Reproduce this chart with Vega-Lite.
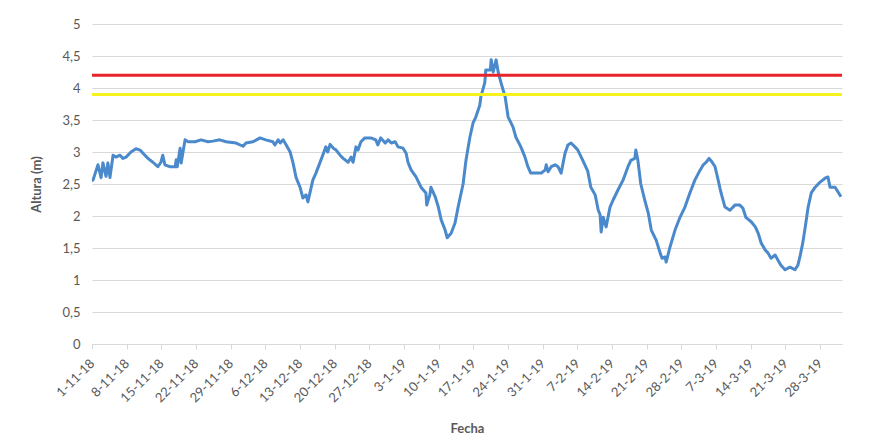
{
  "$schema": "https://vega.github.io/schema/vega-lite/v6.json",
  "width": 750,
  "height": 320,
  "autosize": "none",
  "padding": {"left": 92, "top": 24, "right": 30, "bottom": 103},
  "background": "white",
  "config": {
    "view": {"stroke": null},
    "font": "Lato",
    "axis": {"labelFont": "Lato", "titleFont": "Lato", "labelColor": "#595959", "titleColor": "#595959"}
  },
  "datasets": {
    "altura": [
      {"t": "2018-11-01T00:00", "v": 2.56},
      {"t": "2018-11-01T05:00", "v": 2.56},
      {"t": "2018-11-02T05:00", "v": 2.8},
      {"t": "2018-11-02T20:00", "v": 2.6},
      {"t": "2018-11-03T05:00", "v": 2.83},
      {"t": "2018-11-03T20:00", "v": 2.62},
      {"t": "2018-11-04T05:00", "v": 2.83},
      {"t": "2018-11-04T15:00", "v": 2.6},
      {"t": "2018-11-05T06:00", "v": 2.95},
      {"t": "2018-11-05T20:00", "v": 2.92},
      {"t": "2018-11-06T16:00", "v": 2.95},
      {"t": "2018-11-07T06:00", "v": 2.9},
      {"t": "2018-11-07T21:00", "v": 2.92},
      {"t": "2018-11-08T21:00", "v": 3.0},
      {"t": "2018-11-09T21:00", "v": 3.05},
      {"t": "2018-11-10T17:00", "v": 3.03},
      {"t": "2018-11-11T07:00", "v": 2.98},
      {"t": "2018-11-12T07:00", "v": 2.9},
      {"t": "2018-11-13T07:00", "v": 2.84},
      {"t": "2018-11-14T07:00", "v": 2.77},
      {"t": "2018-11-14T22:00", "v": 2.84},
      {"t": "2018-11-15T07:00", "v": 2.95},
      {"t": "2018-11-15T17:00", "v": 2.8},
      {"t": "2018-11-16T17:00", "v": 2.77},
      {"t": "2018-11-17T19:00", "v": 2.77},
      {"t": "2018-11-18T00:00", "v": 2.88},
      {"t": "2018-11-18T05:00", "v": 2.77},
      {"t": "2018-11-18T19:00", "v": 3.06},
      {"t": "2018-11-19T00:00", "v": 2.83},
      {"t": "2018-11-19T19:00", "v": 3.19},
      {"t": "2018-11-20T10:00", "v": 3.16},
      {"t": "2018-11-21T19:00", "v": 3.16},
      {"t": "2018-11-23T00:00", "v": 3.19},
      {"t": "2018-11-24T10:00", "v": 3.16},
      {"t": "2018-11-25T10:00", "v": 3.17},
      {"t": "2018-11-26T19:00", "v": 3.19},
      {"t": "2018-11-28T02:00", "v": 3.16},
      {"t": "2018-11-30T02:00", "v": 3.14},
      {"t": "2018-12-01T12:00", "v": 3.09},
      {"t": "2018-12-02T02:00", "v": 3.14},
      {"t": "2018-12-03T12:00", "v": 3.16},
      {"t": "2018-12-04T22:00", "v": 3.22},
      {"t": "2018-12-06T02:00", "v": 3.19},
      {"t": "2018-12-07T12:00", "v": 3.16},
      {"t": "2018-12-07T22:00", "v": 3.11},
      {"t": "2018-12-08T14:00", "v": 3.19},
      {"t": "2018-12-09T00:00", "v": 3.14},
      {"t": "2018-12-09T14:00", "v": 3.19},
      {"t": "2018-12-10T05:00", "v": 3.11},
      {"t": "2018-12-11T00:00", "v": 3.0},
      {"t": "2018-12-11T14:00", "v": 2.83},
      {"t": "2018-12-12T05:00", "v": 2.6},
      {"t": "2018-12-13T00:00", "v": 2.45},
      {"t": "2018-12-13T14:00", "v": 2.28},
      {"t": "2018-12-14T05:00", "v": 2.33},
      {"t": "2018-12-14T14:00", "v": 2.22},
      {"t": "2018-12-15T00:00", "v": 2.36},
      {"t": "2018-12-15T14:00", "v": 2.56},
      {"t": "2018-12-16T05:00", "v": 2.67},
      {"t": "2018-12-17T00:00", "v": 2.83},
      {"t": "2018-12-17T14:00", "v": 2.95},
      {"t": "2018-12-18T05:00", "v": 3.08},
      {"t": "2018-12-18T14:00", "v": 3.0},
      {"t": "2018-12-19T02:00", "v": 3.12},
      {"t": "2018-12-19T17:00", "v": 3.06},
      {"t": "2018-12-20T07:00", "v": 3.03},
      {"t": "2018-12-21T02:00", "v": 2.95},
      {"t": "2018-12-21T17:00", "v": 2.9},
      {"t": "2018-12-22T17:00", "v": 2.84},
      {"t": "2018-12-23T07:00", "v": 2.92},
      {"t": "2018-12-23T17:00", "v": 2.84},
      {"t": "2018-12-24T07:00", "v": 3.08},
      {"t": "2018-12-24T17:00", "v": 3.03},
      {"t": "2018-12-25T07:00", "v": 3.16},
      {"t": "2018-12-26T02:00", "v": 3.22},
      {"t": "2018-12-27T07:00", "v": 3.22},
      {"t": "2018-12-28T07:00", "v": 3.19},
      {"t": "2018-12-28T17:00", "v": 3.11},
      {"t": "2018-12-29T07:00", "v": 3.22},
      {"t": "2018-12-30T05:00", "v": 3.14},
      {"t": "2018-12-30T19:00", "v": 3.19},
      {"t": "2018-12-31T10:00", "v": 3.14},
      {"t": "2019-01-01T05:00", "v": 3.16},
      {"t": "2019-01-01T19:00", "v": 3.08},
      {"t": "2019-01-02T19:00", "v": 3.06},
      {"t": "2019-01-03T10:00", "v": 2.98},
      {"t": "2019-01-03T19:00", "v": 2.84},
      {"t": "2019-01-04T10:00", "v": 2.72},
      {"t": "2019-01-05T10:00", "v": 2.61},
      {"t": "2019-01-06T10:00", "v": 2.45},
      {"t": "2019-01-07T10:00", "v": 2.36},
      {"t": "2019-01-07T14:00", "v": 2.17},
      {"t": "2019-01-08T05:00", "v": 2.33},
      {"t": "2019-01-08T10:00", "v": 2.45},
      {"t": "2019-01-09T07:00", "v": 2.3},
      {"t": "2019-01-09T22:00", "v": 2.14},
      {"t": "2019-01-10T12:00", "v": 1.94},
      {"t": "2019-01-11T07:00", "v": 1.78},
      {"t": "2019-01-11T17:00", "v": 1.66},
      {"t": "2019-01-12T12:00", "v": 1.73},
      {"t": "2019-01-13T07:00", "v": 1.89},
      {"t": "2019-01-13T22:00", "v": 2.14},
      {"t": "2019-01-14T22:00", "v": 2.5},
      {"t": "2019-01-15T12:00", "v": 2.87},
      {"t": "2019-01-16T07:00", "v": 3.23},
      {"t": "2019-01-16T22:00", "v": 3.45},
      {"t": "2019-01-17T12:00", "v": 3.55},
      {"t": "2019-01-18T07:00", "v": 3.73},
      {"t": "2019-01-18T12:00", "v": 3.86},
      {"t": "2019-01-19T07:00", "v": 4.08},
      {"t": "2019-01-19T12:00", "v": 4.28},
      {"t": "2019-01-20T10:00", "v": 4.28},
      {"t": "2019-01-20T14:00", "v": 4.44},
      {"t": "2019-01-21T00:00", "v": 4.25},
      {"t": "2019-01-21T14:00", "v": 4.44},
      {"t": "2019-01-22T00:00", "v": 4.25},
      {"t": "2019-01-22T14:00", "v": 4.08},
      {"t": "2019-01-23T10:00", "v": 3.86},
      {"t": "2019-01-24T00:00", "v": 3.55},
      {"t": "2019-01-25T00:00", "v": 3.39},
      {"t": "2019-01-25T14:00", "v": 3.23},
      {"t": "2019-01-26T14:00", "v": 3.08},
      {"t": "2019-01-27T10:00", "v": 2.92},
      {"t": "2019-01-28T00:00", "v": 2.77},
      {"t": "2019-01-28T14:00", "v": 2.67},
      {"t": "2019-01-30T00:00", "v": 2.67},
      {"t": "2019-01-30T17:00", "v": 2.67},
      {"t": "2019-01-31T12:00", "v": 2.72},
      {"t": "2019-01-31T17:00", "v": 2.8},
      {"t": "2019-02-01T02:00", "v": 2.69},
      {"t": "2019-02-01T17:00", "v": 2.77},
      {"t": "2019-02-02T12:00", "v": 2.8},
      {"t": "2019-02-03T02:00", "v": 2.77},
      {"t": "2019-02-03T17:00", "v": 2.67},
      {"t": "2019-02-04T12:00", "v": 2.98},
      {"t": "2019-02-05T02:00", "v": 3.11},
      {"t": "2019-02-05T17:00", "v": 3.14},
      {"t": "2019-02-06T12:00", "v": 3.08},
      {"t": "2019-02-07T02:00", "v": 3.03},
      {"t": "2019-02-08T02:00", "v": 2.87},
      {"t": "2019-02-09T02:00", "v": 2.7},
      {"t": "2019-02-09T17:00", "v": 2.45},
      {"t": "2019-02-10T14:00", "v": 2.33},
      {"t": "2019-02-11T05:00", "v": 2.09},
      {"t": "2019-02-11T14:00", "v": 2.02},
      {"t": "2019-02-11T19:00", "v": 1.75},
      {"t": "2019-02-12T05:00", "v": 1.98},
      {"t": "2019-02-12T19:00", "v": 1.83},
      {"t": "2019-02-13T14:00", "v": 2.14},
      {"t": "2019-02-14T05:00", "v": 2.25},
      {"t": "2019-02-15T05:00", "v": 2.41},
      {"t": "2019-02-16T05:00", "v": 2.56},
      {"t": "2019-02-17T05:00", "v": 2.77},
      {"t": "2019-02-17T19:00", "v": 2.87},
      {"t": "2019-02-18T14:00", "v": 2.9},
      {"t": "2019-02-18T19:00", "v": 3.03},
      {"t": "2019-02-19T05:00", "v": 2.87},
      {"t": "2019-02-19T19:00", "v": 2.5},
      {"t": "2019-02-20T14:00", "v": 2.25},
      {"t": "2019-02-21T07:00", "v": 2.05},
      {"t": "2019-02-21T22:00", "v": 1.78},
      {"t": "2019-02-22T22:00", "v": 1.62},
      {"t": "2019-02-23T17:00", "v": 1.42},
      {"t": "2019-02-24T02:00", "v": 1.34},
      {"t": "2019-02-24T17:00", "v": 1.36},
      {"t": "2019-02-24T22:00", "v": 1.28},
      {"t": "2019-02-25T17:00", "v": 1.52},
      {"t": "2019-02-26T17:00", "v": 1.78},
      {"t": "2019-02-27T17:00", "v": 1.98},
      {"t": "2019-02-28T17:00", "v": 2.14},
      {"t": "2019-03-01T17:00", "v": 2.36},
      {"t": "2019-03-02T17:00", "v": 2.56},
      {"t": "2019-03-03T19:00", "v": 2.72},
      {"t": "2019-03-04T10:00", "v": 2.8},
      {"t": "2019-03-05T00:00", "v": 2.84},
      {"t": "2019-03-05T14:00", "v": 2.9},
      {"t": "2019-03-06T05:00", "v": 2.84},
      {"t": "2019-03-06T19:00", "v": 2.77},
      {"t": "2019-03-07T10:00", "v": 2.56},
      {"t": "2019-03-08T00:00", "v": 2.36},
      {"t": "2019-03-08T19:00", "v": 2.14},
      {"t": "2019-03-09T19:00", "v": 2.09},
      {"t": "2019-03-10T19:00", "v": 2.17},
      {"t": "2019-03-11T19:00", "v": 2.17},
      {"t": "2019-03-12T10:00", "v": 2.12},
      {"t": "2019-03-13T00:00", "v": 1.98},
      {"t": "2019-03-14T02:00", "v": 1.91},
      {"t": "2019-03-14T22:00", "v": 1.83},
      {"t": "2019-03-15T12:00", "v": 1.73},
      {"t": "2019-03-16T02:00", "v": 1.58},
      {"t": "2019-03-16T22:00", "v": 1.47},
      {"t": "2019-03-17T12:00", "v": 1.42},
      {"t": "2019-03-18T02:00", "v": 1.34},
      {"t": "2019-03-18T22:00", "v": 1.39},
      {"t": "2019-03-19T12:00", "v": 1.31},
      {"t": "2019-03-20T02:00", "v": 1.23},
      {"t": "2019-03-20T22:00", "v": 1.16},
      {"t": "2019-03-21T22:00", "v": 1.2},
      {"t": "2019-03-22T22:00", "v": 1.16},
      {"t": "2019-03-23T12:00", "v": 1.23},
      {"t": "2019-03-23T22:00", "v": 1.36},
      {"t": "2019-03-24T12:00", "v": 1.58},
      {"t": "2019-03-25T00:00", "v": 1.83},
      {"t": "2019-03-25T14:00", "v": 2.14},
      {"t": "2019-03-26T05:00", "v": 2.36},
      {"t": "2019-03-27T00:00", "v": 2.45},
      {"t": "2019-03-28T00:00", "v": 2.53},
      {"t": "2019-03-29T00:00", "v": 2.59},
      {"t": "2019-03-29T14:00", "v": 2.61},
      {"t": "2019-03-30T00:00", "v": 2.45},
      {"t": "2019-03-31T00:00", "v": 2.45},
      {"t": "2019-03-31T14:00", "v": 2.38},
      {"t": "2019-04-01T05:00", "v": 2.3}
    ],
    "umbrales": [
      {"umbral": "Alerta roja", "v": 4.2},
      {"umbral": "Alerta amarilla", "v": 3.9}
    ]
  },
  "encoding": {
    "y": {
      "field": "v",
      "type": "quantitative",
      "title": "Altura (m)",
      "scale": {"domain": [0, 5], "nice": false, "zero": true},
      "axis": {
        "values": [0, 0.5, 1, 1.5, 2, 2.5, 3, 3.5, 4, 4.5, 5],
        "labelExpr": "replace(format(datum.value, '~g'), '.', ',')",
        "labelFontSize": 13,
        "labelPadding": 12,
        "labelOverlap": false,
        "domain": false,
        "ticks": false,
        "grid": true,
        "gridColor": "#D9D9D9",
        "gridWidth": 1,
        "titleFontSize": 13,
        "titleFontWeight": "bold",
        "titlePadding": 18
      }
    }
  },
  "layer": [
    {
      "data": {"name": "altura"},
      "mark": {"type": "line", "color": "#4A89CC", "strokeWidth": 3, "strokeJoin": "round"},
      "encoding": {
        "x": {
          "field": "t",
          "type": "temporal",
          "title": "Fecha",
          "scale": {"domain": [{"year": 2018, "month": 11, "date": 1}, {"year": 2019, "month": 4, "date": 1, "hours": 10}], "nice": false},
          "axis": {
            "values": [
              {"year": 2018, "month": 11, "date": 1}, {"year": 2018, "month": 11, "date": 8}, {"year": 2018, "month": 11, "date": 15},
              {"year": 2018, "month": 11, "date": 22}, {"year": 2018, "month": 11, "date": 29}, {"year": 2018, "month": 12, "date": 6},
              {"year": 2018, "month": 12, "date": 13}, {"year": 2018, "month": 12, "date": 20}, {"year": 2018, "month": 12, "date": 27},
              {"year": 2019, "month": 1, "date": 3}, {"year": 2019, "month": 1, "date": 10}, {"year": 2019, "month": 1, "date": 17},
              {"year": 2019, "month": 1, "date": 24}, {"year": 2019, "month": 1, "date": 31}, {"year": 2019, "month": 2, "date": 7},
              {"year": 2019, "month": 2, "date": 14}, {"year": 2019, "month": 2, "date": 21}, {"year": 2019, "month": 2, "date": 28},
              {"year": 2019, "month": 3, "date": 7}, {"year": 2019, "month": 3, "date": 14}, {"year": 2019, "month": 3, "date": 21},
              {"year": 2019, "month": 3, "date": 28}
            ],
            "format": "%-d-%-m-%y",
            "labelAngle": -45,
            "labelAlign": "right",
            "labelBaseline": "middle",
            "labelFontSize": 13,
            "labelPadding": 12,
            "labelOverlap": false,
            "labelFlush": false,
            "grid": false,
            "domainColor": "#D9D9D9",
            "tickColor": "#D9D9D9",
            "tickSize": 5,
            "titleFontSize": 13,
            "titleFontWeight": "bold",
            "titlePadding": 18
          }
        }
      }
    },
    {
      "data": {"name": "umbrales"},
      "mark": {"type": "rule", "strokeWidth": 3},
      "encoding": {
        "color": {
          "field": "umbral",
          "type": "nominal",
          "scale": {"domain": ["Alerta roja", "Alerta amarilla"], "range": ["#E8232A", "#F6F21E"]},
          "legend": null
        }
      }
    }
  ]
}
